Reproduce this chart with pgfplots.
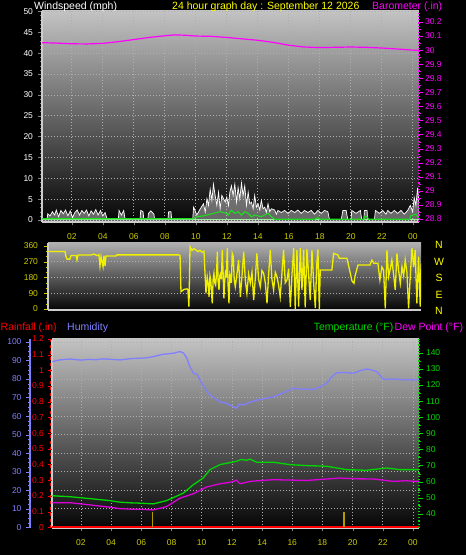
\documentclass[border=0pt]{standalone}
\usepackage{fontspec}
\setmainfont{Liberation Sans}
\usepackage{pgfplots}
\pgfplotsset{compat=1.18}
\definecolor{tickyel}{RGB}{205,205,0}
\definecolor{titleyel}{RGB}{255,255,0}
\definecolor{dirline}{RGB}{240,240,0}
\definecolor{mag}{RGB}{255,0,255}
\definecolor{hum}{RGB}{128,128,255}
\definecolor{tempg}{RGB}{0,215,0}
\definecolor{dewm}{RGB}{220,0,220}
\definecolor{gridc}{RGB}{175,175,175}
\definecolor{framec}{RGB}{205,205,205}
\definecolor{rainbar}{RGB}{175,155,0}
\definecolor{bgtop}{RGB}{195,195,195}
\definecolor{bgtopmid}{RGB}{175,175,175}
\definecolor{bgbot}{RGB}{5,5,5}
\definecolor{gustfill}{RGB}{200,200,200}
\definecolor{avgw}{RGB}{30,220,30}
\definecolor{avgwlight}{RGB}{160,240,160}

\pgfplotsset{
  every axis/.append style={
    scale only axis, anchor=south west,
    xmin=0.08, xmax=24.4,
    /pgf/number format/assume math mode=true,
    tick label style={font=\fontsize{8.5}{9}\selectfont},
    tick align=outside,
    major tick length=3.5pt, minor tick length=2pt,
  },
  over/.style={axis x line=none, xtick=\empty},
  mygrid/.style={major grid style={gridc, dash pattern=on 1pt off 2pt, line width=0.7pt}},
}

\begin{document}
\begin{tikzpicture}
\useasboundingbox (0pt,0pt) rectangle (466pt,555pt);
\fill[black] (0pt,0pt) rectangle (466pt,555pt);

% ---------------- top panel: wind speed ----------------
\begin{axis}[at={(42pt,333pt)}, width=377pt, height=211pt,
  ymin=-0.47, ymax=50.1,
  axis background/.style={top color=bgtop, bottom color=bgbot},
  axis x line*=bottom, axis y line*=left,
  axis line style={framec, line width=1.2pt},
  xtick={2,4,...,24}, xticklabels={02,04,06,08,10,12,14,16,18,20,22,00},
  xticklabel style={tickyel, yshift=-5pt},
  ytick={0,5,...,50}, minor y tick num=4,
  yticklabel style={white, xshift=-2pt},
  tick style={gray},
  grid=major, mygrid,
]
\addplot[white, line width=0.7pt, fill=gustfill, fill opacity=0.5] coordinates {
(0.08,0) (0.4,0) (0.45,1.5) (0.6,1.0) (0.75,2.0) (0.9,1.2) (1.0,2.4) (1.15,0.8) (1.3,2.3) (1.45,1.5)
(1.6,2.4) (1.75,1.0) (1.9,2.2) (2.05,0.6) (2.2,1.8) (2.35,2.4) (2.5,1.2) (2.65,2.3) (2.8,1.6) (2.95,2.4)
(3.1,1.0) (3.25,2.2) (3.4,1.4) (3.55,2.5) (3.7,1.2) (3.85,2.3) (4.0,1.0) (4.15,1.8) (4.3,0) (5.0,0)
(5.05,2.3) (5.2,1.2) (5.35,2.3) (5.45,0) (6.4,0) (6.45,2.3) (6.6,2.0) (6.65,0) (6.9,0) (6.95,1.6)
(7.1,2.2) (7.3,1.4) (7.35,0) (8.2,0) (8.25,2.0) (8.4,2.0) (8.45,0) (9.8,0)
(9.86,3.1) (10.07,1.2) (10.29,2.7) (10.5,3.9) (10.61,1.9) (10.72,5.1) (10.82,3.5) (10.93,7.4) (11.04,4.7)
(11.14,8.6) (11.25,5.9) (11.36,3.5) (11.47,6.7) (11.57,2.7) (11.68,5.9) (11.79,5.1) (11.9,4.3) (12.0,5.5)
(12.11,3.5) (12.2,6.7) (12.3,8.2) (12.41,5.9) (12.52,8.6) (12.63,4.3) (12.73,7.8) (12.84,5.1) (12.95,8.9)
(13.05,5.9) (13.16,8.2) (13.27,3.5) (13.38,6.7) (13.48,3.9) (13.59,4.3) (13.7,2.7) (13.8,5.9) (13.91,3.1)
(14.02,3.9) (14.13,2.4) (14.23,4.7) (14.34,2.7) (14.45,3.1) (14.55,1.8) (14.66,3.9) (14.77,2.0) (14.88,2.7)
(15.09,2.4) (15.2,1.4) (15.3,2.3) (15.52,1.8) (15.73,2.3) (15.95,1.6) (16.16,2.3) (16.38,1.8) (16.59,2.4)
(16.8,1.6) (17.02,2.3) (17.23,1.8) (17.45,2.3) (17.66,1.4) (17.88,2.3) (18.09,1.6) (18.31,2.3) (18.52,2.0)
(18.63,0) (19.38,0) (19.49,2.3) (19.7,2.3) (19.81,0) (20.02,0) (20.06,2.3) (20.34,1.6) (20.62,2.3) (20.71,0)
(20.84,0) (20.88,2.3) (21.05,2.3) (21.09,0) (21.52,0) (21.59,2.3) (21.84,1.6) (22.06,2.3) (22.27,1.4)
(22.38,2.3) (22.59,1.6) (22.81,2.3) (23.02,1.6) (23.24,2.3) (23.45,1.4) (23.67,2.3) (23.84,3.5) (23.99,2.0)
(24.09,5.4) (24.2,3.5) (24.31,7.7) (24.4,4.0)
} \closedcycle;
\addplot[avgwlight, line width=1.5pt] coordinates {(0.08,0.15) (24.4,0.15)};
\addplot[avgw, line width=1.1pt] coordinates {
(0.08,0.3) (9.8,0.3) (10.07,0.8) (10.5,1.0) (10.72,1.2) (11.14,1.6) (11.57,2.0) (12.0,1.6) (12.09,1.2)
(12.3,2.35) (12.52,1.6) (12.73,2.0) (12.95,1.2) (13.16,2.0) (13.38,1.6) (13.59,0.8) (13.8,1.2) (14.23,0.8)
(14.66,1.6) (14.88,0.8) (15.09,0.2) (17.7,0.2) (17.88,0.6) (18.0,0.2) (20.84,0.2) (20.9,0.8) (21.05,0.8)
(21.15,0.2) (23.8,0.2) (23.87,1.0) (24.2,1.4) (24.4,0.5)
};
\end{axis}

% ---------------- top panel: barometer ----------------
\begin{axis}[at={(42pt,333pt)}, width=377pt, height=211pt,
  over, ymin=28.779, ymax=30.278,
  axis y line*=right,
  y axis line style={mag, dotted, line width=1.2pt},
  ytick={28.8,28.9,29.0,29.1,29.2,29.3,29.4,29.5,29.6,29.7,29.8,29.9,30.0,30.1,30.2},
  yticklabels={28.8,28.9,29,29.1,29.2,29.3,29.4,29.5,29.6,29.7,29.8,29.9,30,30.1,30.2},
  minor y tick num=1,
  yticklabel style={mag, xshift=-1pt},
  tick style={mag},
]
\addplot[mag, line width=1.2pt] coordinates {
(0.08,30.053) (1.0,30.050) (2.0,30.045) (3.0,30.044) (4.0,30.048) (5.0,30.060) (6.0,30.075) (7.0,30.090)
(8.0,30.102) (8.6,30.108) (9.3,30.106) (10.0,30.100) (11.0,30.098) (12.0,30.090) (13.0,30.080) (14.0,30.070)
(15.0,30.055) (16.0,30.035) (17.0,30.022) (18.0,30.018) (19.0,30.020) (20.0,30.022) (21.0,30.020)
(22.0,30.015) (23.0,30.008) (24.0,30.000) (24.4,29.998)
};
\end{axis}

% ---------------- middle panel: wind direction ----------------
\begin{axis}[at={(48pt,245pt)}, width=373pt, height=67pt,
  ymin=-5.7, ymax=377,
  axis background/.style={top color=bgtopmid, bottom color=bgbot},
  axis x line*=bottom, axis y line*=left,
  axis line style={framec, line width=1.2pt},
  xtick=\empty,
  ytick={0,90,180,270,360}, minor y tick num=2,
  yticklabel style={tickyel, xshift=-3pt}, tick style={tickyel},
  ymajorgrids, mygrid,
]
\addplot[dirline, line width=1.3pt] coordinates {
(0.1,328) (1.19,328) (1.25,300) (1.32,285) (1.51,285) (1.58,305) (1.91,305) (1.97,280) (2.04,308) (2.88,308)
(3.08,314) (3.27,305) (3.40,310) (3.47,245) (3.54,300) (3.67,242) (3.73,305) (3.80,245) (3.86,303) (4.51,303)
(4.58,309) (8.62,309) (8.69,305) (8.75,99) (8.95,112) (9.14,115) (9.20,110) (9.27,13) (9.34,356) (9.47,335)
(9.60,345) (9.73,337) (9.86,328) (9.99,335) (10.12,325) (10.25,330) (10.38,90) (10.46,185) (10.52,150)
(10.58,70) (10.64,190) (10.69,166) (10.79,32) (10.85,175) (10.90,204) (10.95,150) (11.01,137) (11.07,200)
(11.12,328) (11.17,160) (11.23,109) (11.28,190) (11.34,204) (11.39,170) (11.44,337) (11.50,200) (11.55,61)
(11.60,160) (11.66,223) (11.71,180) (11.77,347) (11.82,140) (11.88,32) (11.94,200) (11.99,185) (12.04,150)
(12.09,318) (12.16,300) (12.22,170) (12.29,128) (12.40,200) (12.51,280) (12.57,160) (12.62,70) (12.73,190)
(12.84,328) (12.95,160) (13.05,90) (13.16,200) (13.27,147) (13.38,210) (13.49,51) (13.60,180) (13.70,318)
(13.81,170) (13.92,128) (14.03,220) (14.14,204) (14.25,150) (14.36,32) (14.46,190) (14.57,337) (14.68,170)
(14.79,109) (14.90,210) (15.01,185) (15.11,140) (15.22,70) (15.33,200) (15.44,337) (15.55,150) (15.66,166)
(15.77,230) (15.88,13) (15.99,200) (16.10,347) (16.20,0) (16.31,337) (16.42,13) (16.53,347) (16.64,109)
(16.75,337) (16.85,10) (16.96,340) (17.07,200) (17.18,51) (17.29,337) (17.40,150) (17.51,5) (17.60,250)
(17.68,340) (17.77,0) (17.83,223) (18.59,223) (18.70,318) (18.98,309) (19.07,290) (19.57,290) (19.70,240)
(19.90,160) (20.03,147) (20.09,185) (20.29,251) (21.07,251) (21.20,280) (21.33,261) (21.59,261) (21.72,166)
(21.85,240) (21.96,223) (22.07,4) (22.18,337) (22.29,185) (22.40,230) (22.50,280) (22.61,200) (22.72,109)
(22.83,318) (22.94,220) (23.05,147) (23.16,242) (23.27,190) (23.37,280) (23.48,210) (23.59,4) (23.70,185)
(23.81,347) (23.92,240) (24.02,337) (24.13,32) (24.24,299) (24.35,13) (24.4,261)
};
\end{axis}

% ---------------- bottom panel: humidity (grid, frame) ----------------
\begin{axis}[at={(52pt,27pt)}, width=367pt, height=189pt,
  ymin=-0.4, ymax=101.6,
  axis background/.style={top color=bgtop, bottom color=bgbot},
  axis x line*=bottom, axis y line*=left,
  axis line style={framec, line width=1.2pt},
  xtick={2,4,...,24}, xticklabels={02,04,06,08,10,12,14,16,18,20,22,00},
  xticklabel style={tickyel, yshift=-5pt},
  ytick={0,10,...,100}, yticklabels={}, ytick style={draw=none},
  tick style={gray},
  grid=major, mygrid,
]
\addplot[hum, line width=1.3pt] coordinates {
(0.1,89.4) (0.6,90.3) (1.27,90.8) (2.0,90.2) (2.5,90.6) (3.0,90.4) (3.5,90.9) (4.0,90.6) (4.6,90.3) (5.3,91.0)
(5.9,91.2) (6.4,91.5) (6.8,92.1) (7.4,93.3) (8.1,93.9) (8.56,94.8) (8.8,94.0) (9.0,91.5) (9.2,87.0) (9.44,83.1)
(9.7,82.5) (10.0,77.7) (10.3,74.0) (10.55,71.4) (10.9,69.5) (11.21,67.7) (11.6,67.0) (12.0,65.5) (12.32,64.2)
(12.5,66.5) (12.76,66.0) (13.2,67.5) (13.65,68.6) (14.2,69.5) (14.75,70.4) (15.4,72.5) (16.07,75.0) (16.7,74.5)
(17.4,74.4) (17.9,76.0) (18.28,77.7) (18.6,81.0) (18.95,83.4) (19.5,83.5) (20.05,83.1) (20.5,84.5) (20.93,85.4)
(21.3,84.8) (21.6,84.0) (22.04,79.8) (22.6,80.0) (23.3,79.7) (24.25,79.5) (24.4,79.8)
};
\end{axis}

% ---------------- bottom panel: rainfall ----------------
\begin{axis}[at={(52pt,27pt)}, width=367pt, height=189pt,
  over, ymin=-0.0045, ymax=1.2,
  axis y line*=left,
  y axis line style={red, dashed, line width=1.2pt, xshift=-1.5pt},
  ytick={0,0.1,0.2,0.3,0.4,0.5,0.6,0.7,0.8,0.9,1.0,1.1,1.2},
  yticklabels={0,0.1,0.2,0.3,0.4,0.5,0.6,0.7,0.8,0.9,1,1.1,1.2},
  yticklabel style={red, xshift=-1pt}, tick style={red},
]
\addplot[red, line width=2.5pt] coordinates {(0.08,0) (24.4,0)};
\addplot[rainbar, line width=1.3pt, ycomb] coordinates {(6.75,0.1) (19.43,0.1)};
\end{axis}

% ---------------- humidity scale at far left ----------------
\begin{axis}[at={(30pt,27pt)}, width=22pt, height=189pt,
  over, xmin=0, xmax=1, ymin=-0.4, ymax=101.6,
  axis y line*=left,
  y axis line style={hum, line width=1.5pt},
  ytick={0,10,...,100}, minor y tick num=3,
  yticklabel style={hum, xshift=-1.5pt}, tick style={hum},
]
\addplot[draw=none] coordinates {(0.5,50)};
\end{axis}

% ---------------- bottom panel: temperature / dew point ----------------
\begin{axis}[at={(52pt,27pt)}, width=367pt, height=189pt,
  over, ymin=31.3, ymax=148.5,
  axis y line*=right,
  y axis line style={tempg, dotted, line width=1.2pt},
  ytick={40,50,...,140}, minor y tick num=1,
  yticklabel style={tempg}, tick style={tempg},
]
\addplot[dewm, line width=1.3pt] coordinates {
(0.1,47.0) (1.27,47.0) (2.6,45.6) (3.9,44.2) (4.6,43.3) (5.3,43.0) (5.91,42.9) (6.79,42.5) (7.68,44.6)
(8.56,49.8) (9.44,52.5) (10.32,56.7) (11.21,58.75) (11.8,59.5) (12.1,60.2) (12.3,61.0) (12.54,58.75)
(13.2,60.2) (14.0,60.8) (14.75,61.25) (16.0,61.0) (16.96,60.8) (18.0,61.5) (19.17,62.3) (20.2,61.8)
(21.38,61.7) (22.7,60.2) (23.5,60.6) (24.25,60.2) (24.4,60.2)
};
\addplot[tempg, line width=1.3pt] coordinates {
(0.1,51.3) (1.27,50.7) (2.6,49.5) (3.9,48.3) (4.6,47.3) (5.3,46.9) (5.91,46.7) (6.79,46.25) (7.68,48.3)
(8.78,52.9) (9.44,58.1) (10.1,62.3) (10.55,67.5) (11.21,70.6) (12.32,72.7) (12.6,73.8) (12.98,73.3)
(13.2,74.0) (13.65,72.1) (14.75,72.1) (15.85,70.6) (16.96,70.0) (18.28,69.6) (19.6,67.5) (20.93,67.1)
(22.26,68.5) (23.14,67.5) (24.25,67.5) (24.4,67.5)
};
\end{axis}

% ---------------- titles and labels ----------------
\begin{scope}[every node/.style={inner sep=0pt, font=\fontsize{10.5}{12}\selectfont}]
\node[anchor=base west, white] at (34pt,545.7pt) {Windspeed (mph)};
\node[anchor=base west, titleyel] at (172pt,545.7pt) {24 hour graph day : September 12 2026};
\node[anchor=base west, mag] at (372pt,545.7pt) {Barometer (.in)};
\node[anchor=base west, red] at (0.5pt,224.3pt) {Rainfall (.in)};
\node[anchor=base west, hum] at (67pt,224.3pt) {Humidity};
\node[anchor=base east, tempg] at (393.5pt,224.3pt) {Temperature (°F)};
\node[anchor=base west, mag] at (394.5pt,224.3pt) {Dew Point (°F)};
\node[titleyel] at (439pt,310pt) {N};
\node[titleyel] at (439pt,293pt) {W};
\node[titleyel] at (439pt,277pt) {S};
\node[titleyel] at (439pt,260pt) {E};
\node[titleyel] at (439pt,244pt) {N};
\end{scope}
\end{tikzpicture}
\end{document}
